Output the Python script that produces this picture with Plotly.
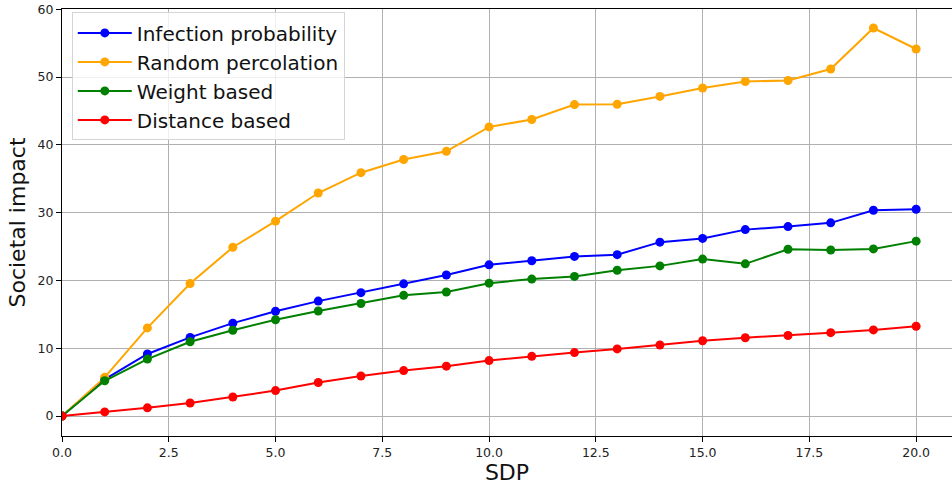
import plotly.graph_objects as go

sdp = list(range(21))

infection_probability = [0, 5.4, 9.15, 11.6, 13.7, 15.45, 16.95, 18.2, 19.5, 20.8, 22.3, 22.9,
                         23.55, 23.8, 25.65, 26.2, 27.5, 27.95, 28.5, 30.35, 30.5]
random_percolation = [0, 5.7, 13.0, 19.55, 24.9, 28.75, 32.9, 35.9, 37.85, 39.05, 42.65, 43.75,
                      45.95, 46.0, 47.15, 48.4, 49.35, 49.5, 51.2, 57.25, 54.15]
weight_based = [0, 5.2, 8.4, 10.95, 12.65, 14.2, 15.5, 16.6, 17.8, 18.3, 19.6, 20.2,
                20.6, 21.5, 22.15, 23.15, 22.45, 24.6, 24.5, 24.65, 25.8]
distance_based = [0, 0.6, 1.2, 1.92, 2.81, 3.75, 4.95, 5.9, 6.7, 7.35, 8.18, 8.8,
                  9.36, 9.9, 10.48, 11.1, 11.55, 11.87, 12.3, 12.7, 13.24]

series = [
    ("Infection probability", infection_probability, "#0000ff"),
    ("Random percolation", random_percolation, "#ffa500"),
    ("Weight based", weight_based, "#008000"),
    ("Distance based", distance_based, "#ff0000"),
]

fig = go.Figure()
for name, vals, color in series:
    fig.add_trace(go.Scatter(
        x=sdp, y=vals, name=name, mode="lines+markers",
        line=dict(color=color, width=2),
        marker=dict(color=color, size=9),
    ))

font = "DejaVu Sans"
fig.update_layout(
    width=952, height=485,
    margin=dict(l=62, r=0, t=9, b=49),
    paper_bgcolor="white", plot_bgcolor="white",
    font=dict(family=font, color="#000000"),
    showlegend=True,
    legend=dict(
        x=0.011, y=0.992, xanchor="left", yanchor="top",
        bgcolor="rgba(255,255,255,0.8)", bordercolor="#d5d5d5", borderwidth=1,
        font=dict(family=font, size=20, color="#111111"),
        itemwidth=54, tracegroupgap=0,
    ),
    xaxis=dict(
        range=[0, 20.84], tickvals=[0, 2.5, 5, 7.5, 10, 12.5, 15, 17.5, 20],
        ticktext=["0.0", "2.5", "5.0", "7.5", "10.0", "12.5", "15.0", "17.5", "20.0"],
        showgrid=True, gridcolor="#b0b0b0", gridwidth=1,
        zeroline=False, showline=True, linecolor="black", linewidth=1, mirror=True,
        ticks="outside", ticklen=5, tickcolor="black",
        tickfont=dict(family=font, size=12.5, color="#222222"),
        title=dict(text="SDP", font=dict(family=font, size=22, color="#111111"), standoff=7),
    ),
    yaxis=dict(
        range=[-2.95, 60.05], tickvals=[0, 10, 20, 30, 40, 50, 60],
        showgrid=True, gridcolor="#b0b0b0", gridwidth=1,
        zeroline=False, showline=True, linecolor="black", linewidth=1,
        ticks="outside", ticklen=5, tickcolor="black",
        tickfont=dict(family=font, size=12.5, color="#222222"),
        title=dict(text="Societal impact", font=dict(family=font, size=22, color="#111111"), standoff=5),
    ),
)

fig.write_html("out.html")
